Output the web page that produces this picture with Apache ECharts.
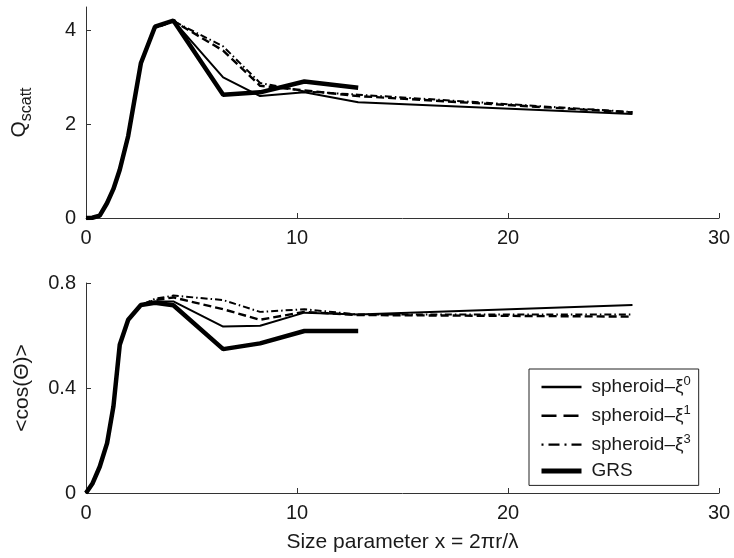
<!DOCTYPE html>
<html><head><meta charset="utf-8">
<script src="https://cdn.jsdelivr.net/npm/echarts@6/dist/echarts.min.js"></script>
<style>html,body{margin:0;padding:0;background:#fff}#c{width:734px;height:558px}</style>
</head><body><div id="c"></div>
<script>
// Sample size parameters
const xSph = [0, 0.3, 0.65, 1.0, 1.3, 1.6, 2.0, 2.6, 3.27, 4.14, 6.5, 8.25, 10.35, 12.9, 25.9];
const xGrs = [0, 0.3, 0.65, 1.0, 1.3, 1.6, 2.0, 2.6, 3.27, 4.14, 6.5, 8.25, 10.35, 12.9];

// Q_scatt (top panel)
const qXi0 = [0, 0.005, 0.05, 0.32, 0.62, 1.03, 1.75, 3.3, 4.07, 4.21, 3.0, 2.6, 2.68, 2.47, 2.22];
const qXi1 = [0, 0.005, 0.05, 0.32, 0.62, 1.03, 1.75, 3.3, 4.05, 4.2, 3.57, 2.82, 2.72, 2.6, 2.25];
const qXi3 = [0, 0.005, 0.05, 0.32, 0.62, 1.03, 1.75, 3.3, 4.05, 4.2, 3.66, 2.88, 2.7, 2.63, 2.26];
const qGrs = [0, 0.005, 0.05, 0.32, 0.62, 1.03, 1.75, 3.3, 4.08, 4.21, 2.63, 2.68, 2.91, 2.78];

// <cos(Theta)> (bottom panel)
const gXi0 = [0, 0.035, 0.1, 0.19, 0.33, 0.565, 0.66, 0.716, 0.73, 0.73, 0.634, 0.637, 0.687, 0.68, 0.716];
const gXi1 = [0, 0.035, 0.1, 0.19, 0.33, 0.565, 0.66, 0.716, 0.735, 0.745, 0.70, 0.66, 0.69, 0.678, 0.672];
const gXi3 = [0, 0.035, 0.1, 0.19, 0.33, 0.565, 0.66, 0.716, 0.74, 0.752, 0.735, 0.69, 0.70, 0.68, 0.68];
const gGrs = [0, 0.035, 0.1, 0.19, 0.33, 0.565, 0.66, 0.716, 0.725, 0.715, 0.548, 0.57, 0.617, 0.617];

const names = ['spheroid–ξ0', 'spheroid–ξ1', 'spheroid–ξ3', 'GRS'];
const xTicks = [0, 10, 20, 30];
const qTicks = [0, 2, 4];
const gTicks = [0, 0.4, 0.8];

const FONT = '"Liberation Sans", Arial, Helvetica, sans-serif';
const TXT = '#1a1a1a';
const zip = (xs, ys) => ys.map((y, i) => [xs[i], y]);

const styles = [
  {width: 2, type: 'solid'},
  {width: 2.4, type: [8, 4]},
  {width: 2, type: [7, 3, 1.5, 3]},
  {width: 4.5, type: 'solid'}
];
const legendStyles = [
  {width: 2.4, type: 'solid'},
  {width: 2.6, type: [15, 7]},
  {width: 2.4, type: [2, 5, 11, 5]},
  {width: 5, type: 'solid'}
];

function mkX(gridIndex, showName) {
  return {
    type: 'value', gridIndex, min: 0, max: 30, interval: 10,
    axisLine: {show: true, lineStyle: {color: '#333', width: 1}},
    axisTick: {show: true, inside: true, length: 5, customValues: xTicks, lineStyle: {color: '#333'}},
    axisLabel: {color: TXT, fontSize: 20, fontFamily: FONT, margin: 10, customValues: xTicks},
    splitLine: {show: false},
    name: showName ? 'Size parameter x = 2πr/λ' : '',
    nameLocation: 'middle', nameGap: 39,
    nameTextStyle: {color: TXT, fontSize: 21, fontFamily: FONT}
  };
}
function mkY(gridIndex, max, ticks, name, rich, gap) {
  return {
    type: 'value', gridIndex, min: 0, max,
    axisLine: {show: true, lineStyle: {color: '#333', width: 1}},
    axisTick: {show: true, inside: true, length: 5, customValues: ticks, lineStyle: {color: '#333'}},
    axisLabel: {color: TXT, fontSize: 20, fontFamily: FONT, margin: 10, customValues: ticks},
    splitLine: {show: false},
    name, nameLocation: 'middle', nameGap: gap, nameRotate: 90,
    nameTextStyle: {color: TXT, fontSize: 21, fontFamily: FONT, rich}
  };
}

const topData = [qXi0, qXi1, qXi3, qGrs];
const botData = [gXi0, gXi1, gXi3, gGrs];
const series = [];
[topData, botData].forEach((set, gi) => {
  set.forEach((ys, i) => {
    series.push({
      name: names[i], type: 'line', xAxisIndex: gi, yAxisIndex: gi,
      data: zip(i === 3 ? xGrs : xSph, ys),
      symbol: 'none', smooth: false, animation: false,
      lineStyle: {color: '#000', width: styles[i].width, type: styles[i].type},
      itemStyle: {color: '#000'},
      z: i === 3 ? 3 : 2
    });
  });
});

const chart = echarts.init(document.getElementById('c'), null, {renderer: 'canvas'});
chart.setOption({
  animation: false,
  backgroundColor: '#fff',
  grid: [
    {left: 86, right: 15, top: 7, bottom: 340},
    {left: 86, right: 15, top: 283, bottom: 65}
  ],
  xAxis: [mkX(0, false), mkX(1, true)],
  yAxis: [
    mkY(0, 4.5, qTicks, '{q|Q}{s|scatt}', {
      q: {fontSize: 21, fontFamily: FONT, color: TXT, lineHeight: 32},
      s: {fontSize: 16, fontFamily: FONT, color: TXT, lineHeight: 16, verticalAlign: 'bottom'}
    }, 51),
    mkY(1, 0.8, gTicks, '<cos(Θ)>', null, 53)
  ],
  legend: {
    data: names.map((n, i) => ({
      name: n,
      lineStyle: {color: '#000', width: legendStyles[i].width, type: legendStyles[i].type, cap: 'butt'}
    })),
    orient: 'vertical', left: 529, top: 369,
    itemWidth: 40, itemHeight: 18, itemGap: 7.3,
    padding: [6, 8, 5, 10],
    borderColor: '#222', borderWidth: 1, backgroundColor: '#fff',
    selectedMode: false,
    itemStyle: {opacity: 0, borderWidth: 0},
    formatter: n => n.startsWith('spheroid') ? '{t|spheroid–ξ}{sup|' + n.slice(-1) + '}' : '{t|GRS}',
    textStyle: {
      color: TXT, fontSize: 19, fontFamily: FONT,
      rich: {
        t: {fontSize: 19, fontFamily: FONT, color: TXT, lineHeight: 24, padding: [0, 0, 0, 5]},
        sup: {fontSize: 13, fontFamily: FONT, color: TXT, lineHeight: 12, verticalAlign: 'top'}
      }
    }
  },
  series
});
</script>
</body></html>
